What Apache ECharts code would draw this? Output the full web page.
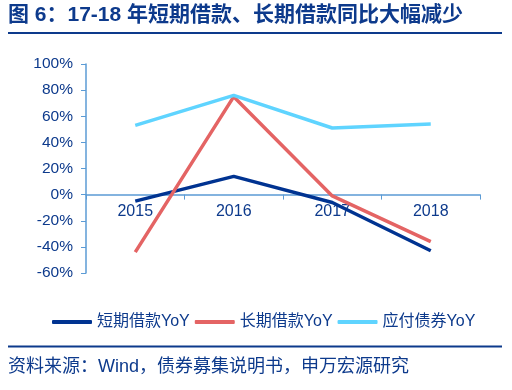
<!DOCTYPE html>
<html><head><meta charset="utf-8">
<script src="https://cdn.jsdelivr.net/npm/echarts@6/dist/echarts.min.js"></script>
<style>html,body{margin:0;padding:0;background:#fff}#c{width:512px;height:390px}</style>
</head><body><div id="c"></div>
<script>
const categories = ['2015', '2016', '2017', '2018'];
const shortLoan = [-5, 14, -6, -43];
const longLoan = [-44, 75, -1, -36];
const bonds = [53, 76, 51, 54];
const seriesNames = ['短期借款YoY', '长期借款YoY', '应付债券YoY'];
const titleText = '图 6：17-18 年短期借款、长期借款同比大幅减少';
const sourceText = '资料来源：Wind，债券募集说明书，申万宏源研究';

const textColor = '#0d3a8c';
const axisColor = '#5b9bd5';
const chart = echarts.init(document.getElementById('c'));
const mk = (name, data, color) => ({
  name, type: 'line', data, symbol: 'none', smooth: false,
  lineStyle: { color, width: 3.5 }, itemStyle: { color }
});
chart.setOption({
  animation: false,
  textStyle: { fontFamily: 'Liberation Sans, Noto Sans CJK SC' },
  grid: { left: 86, right: 32, top: 64, bottom: 117 },
  xAxis: {
    type: 'category', data: categories, boundaryGap: true,
    position: 'bottom', offset: -78.4,
    axisLine: { onZero: false, lineStyle: { color: axisColor, width: 1.5 } },
    axisTick: { show: true, inside: false, length: 5, lineStyle: { color: axisColor } },
    axisLabel: { color: textColor, fontSize: 16, margin: 9 },
    splitLine: { show: false }
  },
  yAxis: {
    type: 'value', min: -60, max: 100, interval: 20,
    axisLine: { show: true, lineStyle: { color: axisColor, width: 1.5 } },
    axisTick: { show: true, length: 5, lineStyle: { color: axisColor } },
    axisLabel: { color: textColor, fontSize: 15.5, margin: 13, formatter: '{value}%' },
    splitLine: { show: false }
  },
  legend: {
    data: seriesNames, left: 47, top: 309, itemWidth: 40, itemHeight: 4, itemGap: 5,
    icon: 'roundRect',
    textStyle: { color: textColor, fontSize: 16, fontFamily: 'Liberation Sans, Noto Sans CJK SC' }
  },
  series: [
    mk(seriesNames[0], shortLoan, '#003391'),
    mk(seriesNames[1], longLoan, '#e46464'),
    mk(seriesNames[2], bonds, '#5fd4ff')
  ],
  graphic: [
    { type: 'text', left: 8, top: 5, style: { text: titleText, fill: '#0d3a8c', font: 'bold 21px "Liberation Sans", "Noto Sans CJK SC"' } },
    { type: 'rect', shape: { x: 8, y: 32, width: 494, height: 2 }, style: { fill: '#0d3a8c' } },
    { type: 'rect', shape: { x: 8, y: 345.5, width: 494, height: 2 }, style: { fill: '#0d3a8c' } },
    { type: 'text', left: 8, top: 358, style: { text: sourceText, fill: '#0d3a8c', font: '18px "Liberation Sans", "Noto Sans CJK SC"' } }
  ]
});
</script></body></html>
